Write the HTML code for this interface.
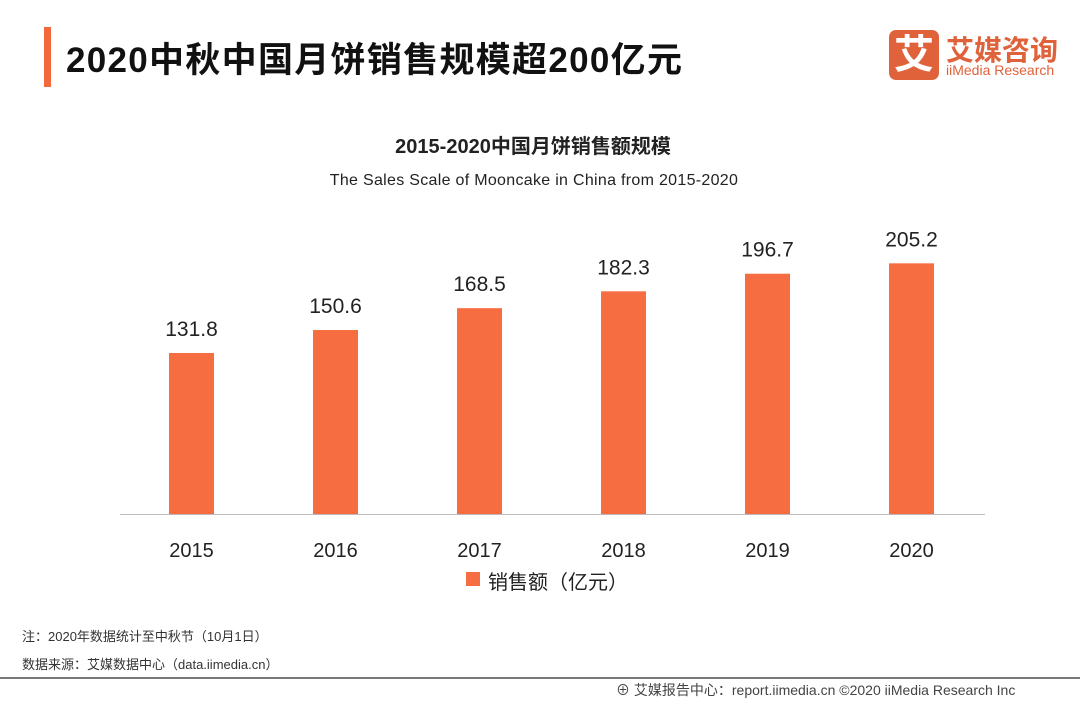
<!DOCTYPE html>
<html><head><meta charset="utf-8">
<style>
body{margin:0;width:1080px;height:702px;background:#fff;position:relative;overflow:hidden;font-family:"Liberation Sans","Noto Sans CJK SC",sans-serif;color:#222}
.a{position:absolute;white-space:nowrap}
</style></head><body>
<div class="a" style="left:44px;top:27px;width:7px;height:60px;background:#f26a3c"></div>
<div class="a" style="left:66px;top:32px;font-size:35px;letter-spacing:1.3px;font-weight:bold;color:#111">2020中秋中国月饼销售规模超200亿元</div>
<div class="a" style="left:889px;top:30px;width:50px;height:50px;background:#e0623a;border-radius:7px;color:#fff;font-size:40px;font-weight:bold;text-align:center;line-height:50px">艾</div>
<div class="a" style="left:946px;top:29px;font-size:28px;font-weight:bold;color:#e0623a">艾媒咨询</div>
<div class="a" style="left:946px;top:62px;font-size:14px;color:#e0623a">iiMedia Research</div>
<div class="a" style="left:0;width:1066px;text-align:center;top:130px;font-size:20px;font-weight:bold">2015-2020中国月饼销售额规模</div>
<div class="a" style="left:0;width:1068px;text-align:center;top:172px;font-size:16px;letter-spacing:0.3px">The  Sales Scale of Mooncake in China from 2015-2020</div>
<svg id="chart" class="a" style="left:0;top:0" width="1080" height="702"></svg>
<div class="a" style="left:466px;top:572px;width:14px;height:14px;background:#f76d42"></div>
<div class="a" style="left:488px;top:566px;font-size:20px">销售额（亿元）</div>
<div class="a" style="left:22px;top:626px;font-size:13px;color:#333">注：2020年数据统计至中秋节（10月1日）</div>
<div class="a" style="left:22px;top:654px;font-size:13px;color:#333">数据来源：艾媒数据中心（data.iimedia.cn）</div>
<div class="a" style="left:0;top:677px;width:1080px;height:2px;background:#777"></div>
<div class="a" style="left:616px;top:680px;font-size:14px;color:#444">⊕ 艾媒报告中心：report.iimedia.cn  ©2020 iiMedia Research Inc</div>
<script>
const categories=["2015","2016","2017","2018","2019","2020"];
const values=[131.8,150.6,168.5,182.3,196.7,205.2];
const labels=["131.8","150.6","168.5","182.3","196.7","205.2"];
const svg=document.getElementById('chart');
const NS='http://www.w3.org/2000/svg';
const base=514, scale=1.2216, x0=191.5, step=144, bw=45;
const xs=i=>x0+i*step, ys=v=>base-v*scale;
function mk(t,a){const e=document.createElementNS(NS,t);for(const k in a)e.setAttribute(k,a[k]);svg.appendChild(e);return e;}
const ax=mk('line',{x1:120,x2:985,y1:base+0.5,y2:base+0.5,stroke:'#bbb','stroke-width':1});


values.forEach((v,i)=>{
 const r=mk('rect',{x:xs(i)-bw/2,y:ys(v),width:bw,height:base-ys(v),fill:'#f76d42'});
 
 
 const t=mk('text',{x:xs(i),y:ys(v)-17,'text-anchor':'middle','font-size':21,fill:'#222','font-family':'Liberation Sans, sans-serif'});
 t.textContent=labels[i];
 
 
 const c=mk('text',{x:xs(i),y:557,'text-anchor':'middle','font-size':20,fill:'#222','font-family':'Liberation Sans, sans-serif'});
 c.textContent=categories[i];
 
 
});
</script>
</body></html>
